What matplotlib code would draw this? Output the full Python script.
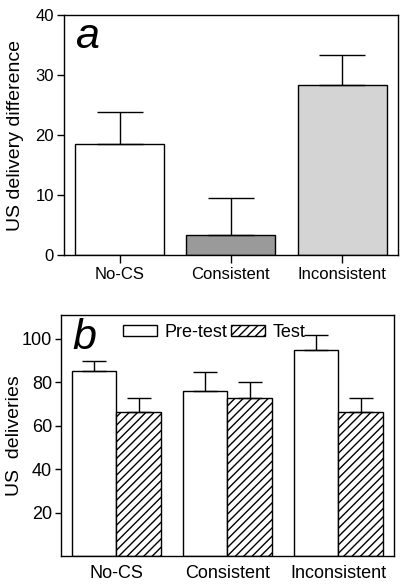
import matplotlib
matplotlib.use("Agg")
import matplotlib.pyplot as plt
import numpy as np

plt.rcParams['font.family'] = ['Liberation Sans', 'DejaVu Sans']

groups = ["No-CS", "Consistent", "Inconsistent"]

# panel a: difference in US deliveries
diff_mean = [18.5, 3.4, 28.3]
diff_err = [5.4, 6.1, 5.1]
diff_colors = ["white", "#9a9a9a", "#d4d4d4"]

# panel b: pre-test vs test
pre_mean = [85.0, 76.2, 94.8]
pre_err = [4.8, 8.5, 7.1]
test_mean = [66.1, 72.7, 66.1]
test_err = [6.8, 7.4, 6.6]

fig = plt.figure(figsize=(4.04, 5.86), dpi=100)
ax1 = fig.add_axes([0.158, 0.565, 0.827, 0.409])
ax2 = fig.add_axes([0.151, 0.0512, 0.824, 0.4113])

x = np.arange(len(groups))

# --- panel a ---
ax1.bar(x, diff_mean, width=0.8, color=diff_colors, edgecolor="black", linewidth=1.0, zorder=2)
ax1.errorbar(x, diff_mean, yerr=[np.zeros(3), diff_err], fmt="none", ecolor="black",
             elinewidth=1.0, capsize=16.5, capthick=1.0, zorder=3)
ax1.set_xlim(-0.5, 2.5)
ax1.set_ylim(0, 40)
ax1.set_yticks([0, 10, 20, 30, 40])
ax1.set_xticks(x)
ax1.set_xticklabels(groups)
ax1.tick_params(axis="y", direction="out", length=5, width=1.0, labelsize=12, pad=2)
ax1.tick_params(axis="x", direction="out", length=5.5, width=1.0, labelsize=12, pad=3)
ax1.set_ylabel("US delivery difference", fontsize=14)
ax1.yaxis.set_label_coords(-0.12, 0.5)
ax1.text(0.033, 0.8625, "a", transform=ax1.transAxes, fontsize=31, style="italic",
         ha="left", va="baseline")

# --- panel b ---
w = 0.4
ax2.bar(x - w / 2, pre_mean, width=w, color="white", edgecolor="black", linewidth=1.0,
        zorder=2, label="Pre-test")
ax2.bar(x + w / 2, test_mean, width=w, color="white", edgecolor="black", linewidth=1.0,
        hatch="////", zorder=2, label="Test")
ax2.errorbar(x - w / 2, pre_mean, yerr=[np.zeros(3), pre_err], fmt="none", ecolor="black",
             elinewidth=1.0, capsize=8.3, capthick=1.0, zorder=3)
ax2.errorbar(x + w / 2, test_mean, yerr=[np.zeros(3), test_err], fmt="none", ecolor="black",
             elinewidth=1.0, capsize=8.3, capthick=1.0, zorder=3)
ax2.set_xlim(-0.5, 2.5)
ax2.set_ylim(0, 111)
ax2.set_yticks([20, 40, 60, 80, 100])
ax2.set_xticks(x)
ax2.set_xticklabels(groups)
ax2.tick_params(axis="y", direction="out", length=4.5, width=1.0, labelsize=13, pad=2)
ax2.tick_params(axis="x", length=0, labelsize=13, pad=6.5)
ax2.set_ylabel("US  deliveries", fontsize=14)
ax2.yaxis.set_label_coords(-0.113, 0.5)
ax2.text(0.033, 0.859, "b", transform=ax2.transAxes, fontsize=31, style="italic",
         ha="left", va="baseline")
ax2.legend(loc="center left", bbox_to_anchor=(0.185, 0.927), frameon=False, ncol=2,
           fontsize=13, handlelength=1.9, handleheight=0.55, handletextpad=0.4,
           columnspacing=0.2, borderpad=0, borderaxespad=0)

for ax in (ax1, ax2):
    for s in ax.spines.values():
        s.set_linewidth(1.0)

fig.savefig("out.png", dpi=100)
